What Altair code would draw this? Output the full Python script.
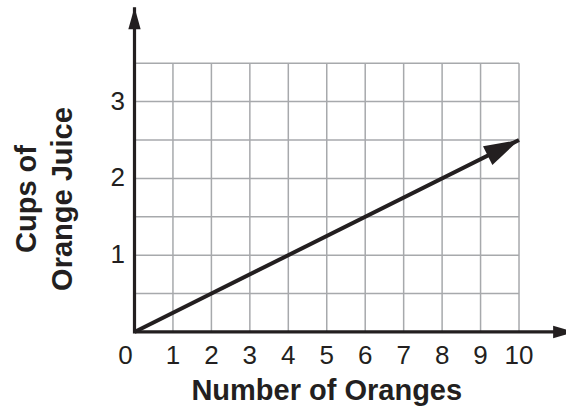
import math

import altair as alt
import pandas as pd

# Juice line: cups of orange juice vs. number of oranges
oranges = [0, 10]
cups = [0, 2.5]

# Grid and tick labels
x_grid = list(range(1, 11))
y_grid = [0.5, 1, 1.5, 2, 2.5, 3, 3.5]
x_labels = list(range(1, 11))
y_labels = [1, 2, 3]
grid_x_max = 10
grid_y_max = 3.5

# Scale domains chosen so the canvas spans a little beyond the grid
X_DOMAIN = [-3.498, 11.222]
Y_DOMAIN = [-0.977, 4.323]
# Where the axis arrows point to
x_axis_tip = 11.46
y_axis_tip = 4.228

W, H = 566, 407
INK = "#231f20"
GRID = "#a7a9ac"
FONT = "Liberation Sans"

xs = alt.Scale(domain=X_DOMAIN, nice=False, zero=False)
ys = alt.Scale(domain=Y_DOMAIN, nice=False, zero=False)


def X(field):
    return alt.X(field, type="quantitative", scale=xs, axis=None)


def Y(field):
    return alt.Y(field, type="quantitative", scale=ys, axis=None)


# --- grid ---
vgrid = pd.DataFrame({"x": x_grid, "y0": [0] * len(x_grid), "y1": [grid_y_max] * len(x_grid)})
hgrid = pd.DataFrame({"y": y_grid, "x0": [0] * len(y_grid), "x1": [grid_x_max] * len(y_grid)})

vlines = alt.Chart(vgrid).mark_rule(color=GRID, strokeWidth=1.5).encode(
    x=X("x"), y=Y("y0"), y2="y1"
)
hlines = alt.Chart(hgrid).mark_rule(color=GRID, strokeWidth=1.5).encode(
    y=Y("y"), x=X("x0"), x2="x1"
)

# --- axes drawn as one bent line with arrowheads ---
axes_df = pd.DataFrame({"x": [0, 0, x_axis_tip], "y": [y_axis_tip, 0, 0], "o": [0, 1, 2]})
axes_line = alt.Chart(axes_df).mark_line(
    color=INK, strokeWidth=3.2, strokeJoin="miter", strokeCap="butt"
).encode(x=X("x"), y=Y("y"), order="o:O")

AXIS_HEAD = "M0,0L-0.28,1L0.28,1Z"
axis_heads_df = pd.DataFrame({"x": [0, x_axis_tip], "y": [y_axis_tip, 0], "a": [0, 90]})
axis_heads = alt.Chart(axis_heads_df).mark_point(
    shape=AXIS_HEAD, size=(2 * 22) ** 2, filled=True, color=INK, opacity=1, strokeWidth=0
).encode(x=X("x"), y=Y("y"), angle=alt.Angle("a:Q", scale=None))

# --- the juice line with its arrowhead ---
px_x = W / (X_DOMAIN[1] - X_DOMAIN[0])
px_y = H / (Y_DOMAIN[1] - Y_DOMAIN[0])
head_angle = 90 - math.degrees(
    math.atan2((cups[-1] - cups[0]) * px_y, (oranges[-1] - oranges[0]) * px_x)
)

line_df = pd.DataFrame({"oranges": oranges, "cups": cups})
juice = alt.Chart(line_df).mark_line(color=INK, strokeWidth=4, strokeCap="butt").encode(
    x=X("oranges"), y=Y("cups")
)
LINE_HEAD = "M0,0L-0.3,1L0.3,1Z"
head_df = pd.DataFrame({"oranges": [oranges[-1]], "cups": [cups[-1]], "a": [head_angle]})
juice_head = alt.Chart(head_df).mark_point(
    shape=LINE_HEAD, size=(2 * 35) ** 2, filled=True, color=INK, opacity=1, strokeWidth=0
).encode(x=X("oranges"), y=Y("cups"), angle=alt.Angle("a:Q", scale=None))

# --- tick labels ---
label_style = dict(font=FONT, fontSize=26, color=INK)
xlab_df = pd.DataFrame({"v": x_labels, "zero": [0] * len(x_labels), "t": [str(v) for v in x_labels]})
xlabels = alt.Chart(xlab_df).mark_text(align="center", baseline="alphabetic", dy=32, **label_style).encode(
    x=X("v"), y=Y("zero"), text="t:N"
)
origin_label = alt.Chart(pd.DataFrame({"v": [0], "t": ["0"]})).mark_text(
    align="center", baseline="alphabetic", dx=-9, dy=32, **label_style
).encode(x=X("v"), y=Y("v"), text="t:N")

ylab_df = pd.DataFrame({"v": y_labels, "zero": [0] * len(y_labels), "t": [str(v) for v in y_labels]})
ylabels = alt.Chart(ylab_df).mark_text(align="right", baseline="middle", dx=-9.5, **label_style).encode(
    x=X("zero"), y=Y("v"), text="t:N"
)

# --- axis titles ---
title_style = dict(font=FONT, fontSize=29, fontWeight="bold", color=INK)
x_title = alt.Chart(pd.DataFrame({"x": [grid_x_max / 2], "y": [0], "t": ["Number of Oranges"]})).mark_text(
    align="center", baseline="alphabetic", dy=68, **title_style
).encode(x=X("x"), y=Y("y"), text="t:N")

y_title_df = pd.DataFrame({"t": ["Cups of", "Orange Juice"], "px": [36, 71.5]})
y_title = alt.Chart(y_title_df).mark_text(
    align="center", baseline="alphabetic", angle=270, **title_style
).encode(x=alt.X("px:Q", scale=None, axis=None), y=alt.value(199), text="t:N")

chart = alt.layer(
    vlines, hlines, juice, juice_head, axes_line, axis_heads,
    xlabels, origin_label, ylabels, x_title, y_title,
).properties(
    width=W, height=H, padding=0, autosize=alt.AutoSizeParams(type="none"), background="white"
).configure_view(stroke=None)

chart.save("out.html", embed_options={"renderer": "svg", "actions": False})
